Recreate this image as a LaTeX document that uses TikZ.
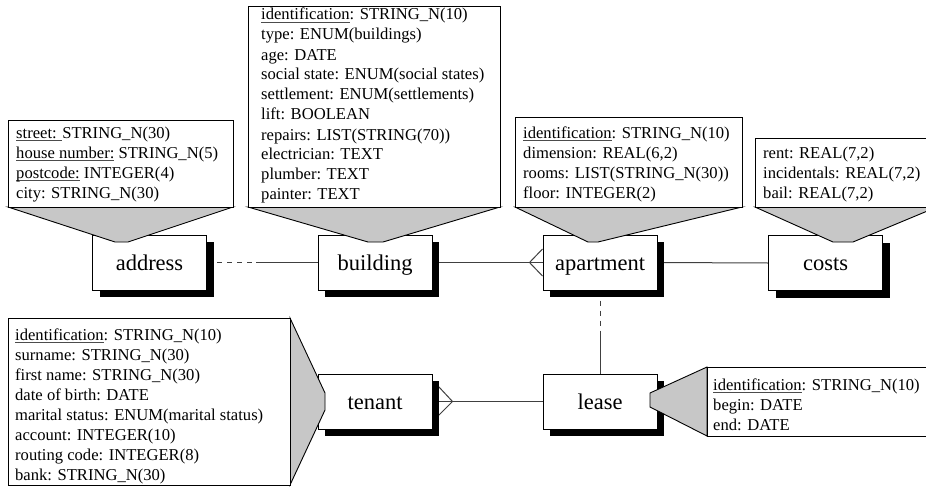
\documentclass[tikz,border=0pt]{standalone}
\usepackage{fontspec}
\setmainfont{Liberation Serif}
\usetikzlibrary{shadows,calc}
\pgfdeclarelayer{background}
\pgfsetlayers{background,main}
\newcommand\ukey[1]{\setbox0\hbox{#1}\rlap{\color{black!70}\rule[-2.8pt]{\wd0}{0.8pt}}\box0\relax}
\newcommand\attrline[1]{\hbox{#1}}
\begin{document}
\begin{tikzpicture}[x=1pt,y=-1pt,
  entity/.style={draw=black, line width=1pt, fill=white, minimum width=114pt, minimum height=55pt,
    inner sep=0pt, font=\fontsize{22.5}{27}\selectfont, text height=16pt, text depth=1pt,
    drop shadow={shadow xshift=7pt,shadow yshift=-7pt,opacity=1,fill=black}},
  attr/.style={anchor=base west, inner sep=0pt, font=\fontsize{16.6}{20}\selectfont},
  callout/.style={draw=black, line width=0.9pt, fill=black!22, line join=miter},
  attrbox/.style={draw=black, line width=0.9pt, fill=white},
  link/.style={draw=black!75, line width=1pt},
  dlink/.style={link, dash pattern=on 5pt off 5pt}
]
\useasboundingbox (0,0) rectangle (926,487);

% entities
\node[entity] (address)   at (149.5,262.5) {address};
\node[entity] (building)  at (375,262.5)   {building};
\node[entity] (apartment) at (600,262.5)   {apartment};
\node[entity] (costs)     at (825.5,263)   {costs};
\node[entity] (tenant)    at (375,401.5)   {tenant};
\node[entity] (lease)     at (600,401.5)   {lease};

% connectors
\begin{pgfonlayer}{background}
  \coordinate (ab) at (256,262.5);
  \draw[dlink] (address.east) -- (ab);
  \draw[link] (ab) -- (building.west);
  \draw[link] (building.east) -- (apartment.west);
  \draw[link] ($(apartment.west)+(-13,0)$) -- ($(apartment.west)+(0,-13.5)$);
  \draw[link] ($(apartment.west)+(-13,0)$) -- ($(apartment.west)+(0,13.5)$);
  \draw[link] (apartment.east) -- (costs.west);
  \coordinate (al) at (600,335);
  \draw[dlink] (apartment.south) -- (al);
  \draw[link] (al) -- (lease.north);
  \draw[link] (tenant.east) -- (lease.west);
  \draw[link] ($(tenant.east)+(6,-15)$) -- ($(tenant.east)+(20,0)$) -- ($(tenant.east)+(6,14)$);
\end{pgfonlayer}

% attribute callouts
\path[callout] (8,207) -- (115,242) -- (128,242) -- (233,207) -- cycle;
\path[attrbox] (8,120) rectangle (233,207);
\node[attr] (addressattr) at (16,138) {\vtop{\attrline{\ukey{street: }STRING\_N(30)}\attrline{\ukey{house number:} STRING\_N(5)}\attrline{\ukey{postcode:} INTEGER(4)}\attrline{city: STRING\_N(30)}}};

\path[callout] (248,207) -- (368,242) -- (383,242) -- (500,207) -- cycle;
\path[attrbox] (248,6) rectangle (500,207);
\node[attr] (buildingattr) at (261,20) {\vtop{\attrline{\ukey{identification}: STRING\_N(10)}\attrline{type: ENUM(buildings)}\attrline{age: DATE}\attrline{social state: ENUM(social states)}\attrline{settlement: ENUM(settlements)}\attrline{lift: BOOLEAN}\attrline{repairs: LIST(STRING(70))}\attrline{electrician: TEXT}\attrline{plumber: TEXT}\attrline{painter: TEXT}}};

\path[callout] (515,207) -- (588,242) -- (598,242) -- (742,207) -- cycle;
\path[attrbox] (515,117) rectangle (742,207);
\node[attr] (apartmentattr) at (523,138) {\vtop{\attrline{\ukey{identification}: STRING\_N(10)}\attrline{dimension: REAL(6,2)}\attrline{rooms: LIST(STRING\_N(30))}\attrline{floor: INTEGER(2)}}};

\path[callout] (755,207) -- (833,242) -- (853,242) -- (937,207) -- cycle;
\path[attrbox] (755,138) rectangle (937,207);
\node[attr] (costsattr) at (763,158) {\vtop{\attrline{rent: REAL(7,2)}\attrline{incidentals: REAL(7,2)}\attrline{bail: REAL(7,2)}}};

\path[callout] (290,318) -- (325,393) -- (325,410) -- (290,485) -- cycle;
\path[attrbox] (8,318) rectangle (290,485);
\node[attr] (tenantattr) at (15,340) {\vtop{\attrline{\ukey{identification}: STRING\_N(10)}\attrline{surname: STRING\_N(30)}\attrline{first name: STRING\_N(30)}\attrline{date of birth: DATE}\attrline{marital status: ENUM(marital status)}\attrline{account: INTEGER(10)}\attrline{routing code: INTEGER(8)}\attrline{bank: STRING\_N(30)}}};

\path[callout] (707,367) -- (650,393) -- (650,407) -- (707,436) -- cycle;
\path[attrbox] (707,367) rectangle (940,436);
\node[attr] (leaseattr) at (713,390) {\vtop{\attrline{\ukey{identification}: STRING\_N(10)}\attrline{begin: DATE}\attrline{end: DATE}}};
\end{tikzpicture}
\end{document}
